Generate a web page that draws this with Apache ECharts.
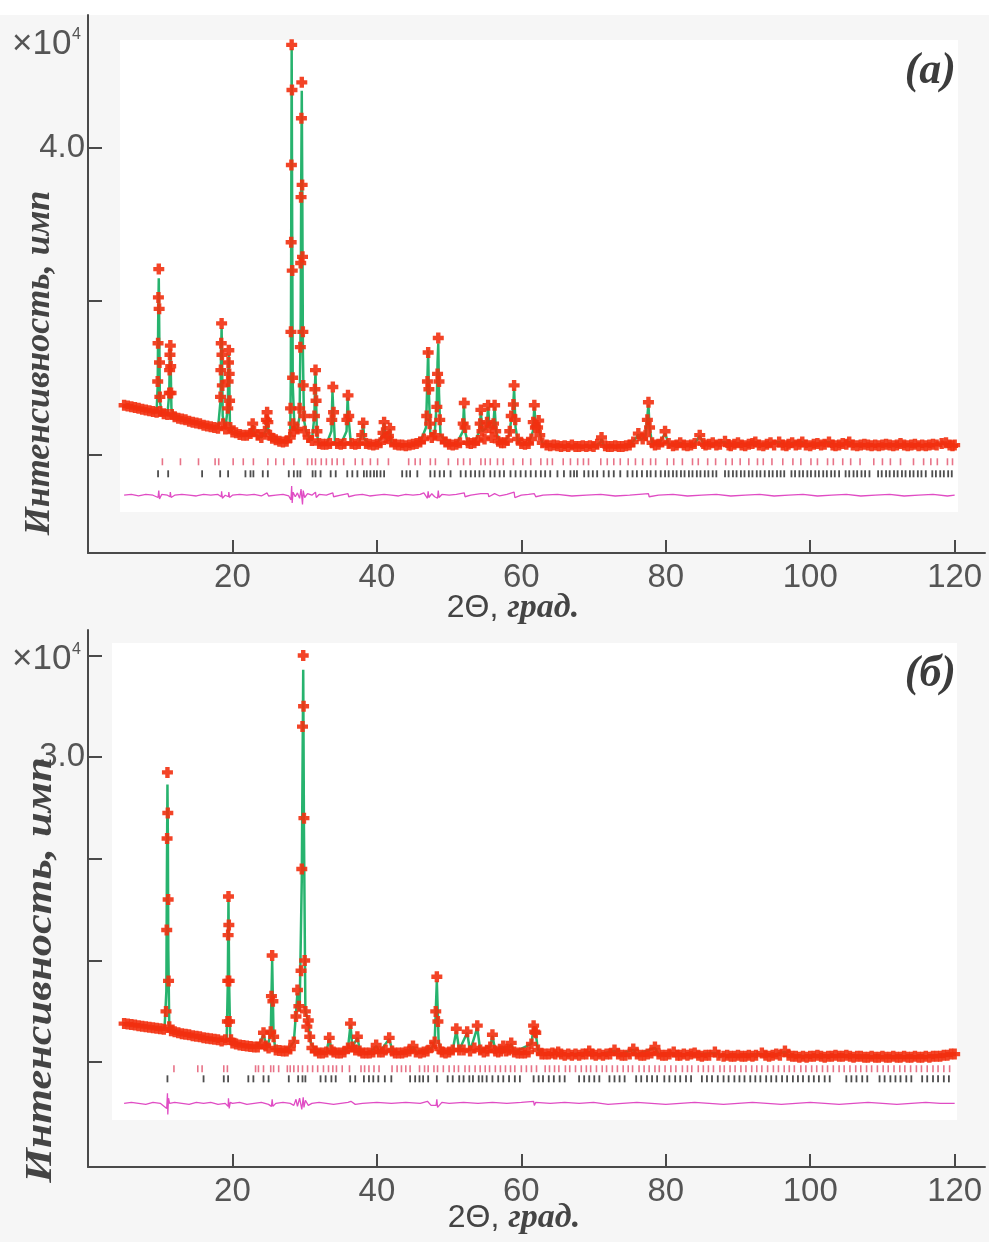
<!DOCTYPE html>
<html><head><meta charset="utf-8">
<script src="https://cdn.jsdelivr.net/npm/echarts@6.0.0/dist/echarts.min.js"></script>
<style>html,body{margin:0;padding:0;background:#f6f6f6}#c{width:989px;height:1242px}</style>
</head><body><div id="c"></div>
<script>
// ---------- Panel (a) ----------
const obsA = [[5.0,0.64],[5.5,0.63],[6.0,0.62],[6.5,0.61],[7.0,0.60],[7.5,0.59],[8.0,0.58],[8.5,0.57],[9.0,0.56],[9.5,0.55],[9.65,0.95],[9.7,1.45],[9.75,2.05],[9.8,2.42],[9.85,1.9],[9.9,1.2],[9.95,0.75],[10.0,0.56],[10.5,0.53],[11.0,0.52],[11.25,0.8],[11.3,1.1],[11.35,1.3],[11.4,1.42],[11.45,1.15],[11.5,0.8],[11.6,0.52],[12.0,0.49],[12.5,0.47],[13.0,0.46],[13.5,0.45],[14.0,0.43],[14.5,0.42],[15.0,0.41],[15.5,0.40],[16.0,0.38],[16.5,0.37],[17.0,0.36],[17.5,0.35],[18.0,0.34],[18.35,0.75],[18.4,1.1],[18.45,1.45],[18.5,1.71],[18.55,1.3],[18.6,0.9],[18.7,0.4],[19.0,0.33],[19.35,0.6],[19.4,0.95],[19.45,1.2],[19.5,1.36],[19.55,1.05],[19.6,0.7],[19.7,0.35],[20.0,0.29],[20.5,0.28],[21.0,0.26],[21.5,0.25],[22.0,0.25],[22.5,0.27],[22.8,0.40],[23.0,0.3],[23.5,0.25],[24.0,0.22],[24.5,0.3],[24.7,0.45],[24.8,0.55],[24.9,0.42],[25.2,0.25],[25.5,0.21],[26.0,0.19],[26.5,0.17],[27.0,0.16],[27.5,0.17],[28.0,0.22],[28.05,0.6],[28.1,1.6],[28.13,2.77],[28.16,3.78],[28.2,5.35],[28.24,4.76],[28.28,2.4],[28.33,1.0],[28.4,0.4],[28.5,0.3],[29.0,0.33],[29.3,0.6],[29.4,1.4],[29.45,2.5],[29.5,3.36],[29.55,4.39],[29.6,4.86],[29.65,3.52],[29.7,2.58],[29.75,1.6],[29.8,0.9],[29.9,0.5],[30.0,0.3],[30.5,0.22],[31.0,0.18],[31.35,0.5],[31.42,0.85],[31.5,1.1],[31.58,0.7],[31.7,0.3],[32.0,0.14],[32.5,0.13],[33.0,0.13],[33.5,0.14],[33.75,0.45],[33.9,0.88],[34.0,0.55],[34.5,0.14],[35.0,0.13],[35.5,0.14],[35.85,0.45],[36.0,0.77],[36.1,0.5],[36.5,0.14],[37.0,0.13],[37.5,0.14],[37.9,0.25],[38.1,0.41],[38.5,0.14],[39.0,0.13],[39.5,0.12],[40.0,0.13],[40.5,0.15],[40.85,0.28],[41.0,0.42],[41.2,0.22],[41.6,0.24],[41.8,0.34],[42.0,0.16],[42.5,0.13],[43.0,0.12],[43.5,0.12],[44.0,0.11],[44.5,0.12],[45.0,0.13],[45.5,0.14],[46.0,0.16],[46.5,0.2],[46.9,0.5],[47.0,0.95],[47.1,1.33],[47.2,0.85],[47.3,0.4],[47.6,0.22],[48.0,0.25],[48.3,0.62],[48.4,1.05],[48.5,1.52],[48.6,0.95],[48.7,0.45],[49.0,0.2],[49.5,0.16],[50.0,0.13],[50.5,0.12],[51.0,0.13],[51.5,0.15],[51.95,0.4],[52.1,0.67],[52.2,0.35],[52.6,0.15],[53.0,0.14],[53.5,0.15],[54.0,0.18],[54.3,0.4],[54.4,0.58],[54.55,0.3],[54.9,0.2],[55.25,0.42],[55.4,0.64],[55.55,0.35],[55.9,0.22],[56.15,0.4],[56.3,0.64],[56.45,0.3],[56.8,0.17],[57.2,0.15],[57.6,0.15],[58.1,0.18],[58.4,0.3],[58.6,0.5],[58.9,0.65],[59.0,0.9],[59.15,0.45],[59.5,0.2],[60.0,0.14],[60.5,0.13],[61.0,0.14],[61.4,0.2],[61.65,0.42],[61.8,0.64],[61.95,0.35],[62.25,0.35],[62.4,0.44],[62.55,0.25],[62.9,0.15],[63.5,0.12],[64.0,0.11],[64.5,0.12],[65.0,0.11],[65.5,0.10],[66.0,0.11],[66.5,0.10],[67.0,0.12],[67.5,0.10],[68.0,0.10],[68.5,0.11],[69.0,0.10],[69.5,0.11],[70.0,0.10],[70.5,0.13],[71.1,0.22],[71.6,0.11],[72.0,0.10],[72.5,0.10],[73.0,0.11],[73.5,0.10],[74.0,0.10],[74.5,0.11],[75.0,0.12],[75.5,0.16],[76.2,0.27],[76.8,0.20],[77.2,0.25],[77.45,0.45],[77.6,0.68],[77.75,0.35],[78.1,0.15],[78.5,0.12],[79.0,0.13],[79.5,0.16],[79.9,0.30],[80.4,0.14],[81.0,0.11],[81.5,0.12],[82.0,0.15],[82.5,0.12],[83.0,0.11],[83.5,0.12],[84.0,0.14],[84.7,0.25],[85.2,0.14],[85.5,0.12],[86.0,0.13],[86.5,0.15],[87.0,0.12],[87.5,0.13],[88.2,0.17],[88.7,0.12],[89.0,0.11],[89.5,0.13],[90.0,0.15],[90.5,0.12],[91.0,0.11],[91.5,0.13],[92.0,0.14],[92.4,0.16],[92.9,0.12],[93.5,0.11],[94.0,0.13],[94.5,0.15],[95.0,0.12],[95.7,0.16],[96.2,0.12],[96.7,0.11],[97.0,0.13],[97.5,0.15],[98.0,0.12],[98.5,0.13],[98.9,0.16],[99.4,0.12],[100.0,0.11],[100.5,0.13],[101.0,0.14],[101.5,0.12],[102.0,0.13],[102.6,0.16],[103.1,0.12],[103.5,0.11],[104.0,0.12],[104.5,0.14],[105.0,0.13],[105.4,0.16],[105.9,0.12],[106.5,0.11],[107.0,0.12],[107.5,0.13],[108.0,0.12],[108.5,0.11],[109.0,0.12],[109.5,0.11],[110.0,0.12],[110.5,0.13],[111.0,0.12],[111.5,0.11],[112.0,0.12],[112.5,0.14],[113.0,0.12],[113.5,0.11],[114.0,0.12],[114.5,0.13],[115.0,0.11],[115.5,0.12],[116.0,0.11],[116.5,0.12],[117.0,0.13],[117.5,0.12],[118.2,0.14],[118.8,0.15],[119.3,0.12],[119.7,0.11],[120.0,0.12]];

const calcA = [[5,0.64],[6,0.62],[7,0.60],[8,0.58],[9,0.56],[9.5,0.55],[9.65,0.9],[9.72,1.75],[9.8,2.3],[9.88,1.45],[9.95,0.7],[10.2,0.54],[11,0.52],[11.25,0.8],[11.32,1.2],[11.4,1.38],[11.48,1.0],[11.55,0.6],[12,0.49],[13,0.46],[14,0.43],[15,0.41],[16,0.38],[17,0.36],[18,0.34],[18.35,0.7],[18.42,1.3],[18.5,1.65],[18.58,1.1],[18.65,0.5],[19.0,0.33],[19.35,0.6],[19.42,1.0],[19.5,1.3],[19.58,0.9],[19.65,0.4],[20,0.29],[21,0.26],[22,0.25],[22.6,0.28],[22.8,0.38],[23.0,0.27],[24,0.22],[24.6,0.3],[24.8,0.5],[25.0,0.28],[25.5,0.21],[26,0.19],[27,0.16],[27.6,0.18],[28.0,0.24],[28.08,1.0],[28.13,2.6],[28.2,5.3],[28.27,3.0],[28.35,0.9],[28.6,0.32],[29.0,0.34],[29.3,0.5],[29.45,1.8],[29.52,3.5],[29.6,4.75],[29.68,3.2],[29.76,1.3],[29.9,0.45],[30.2,0.3],[30.6,0.22],[31,0.18],[31.35,0.5],[31.45,0.95],[31.5,1.08],[31.58,0.7],[31.7,0.25],[32,0.14],[33,0.13],[33.7,0.3],[33.85,0.82],[33.95,0.6],[34.2,0.15],[35.0,0.13],[35.8,0.3],[35.95,0.74],[36.1,0.45],[36.4,0.14],[37.5,0.14],[38.0,0.3],[38.1,0.4],[38.25,0.2],[39,0.13],[40,0.13],[40.8,0.25],[41.0,0.41],[41.2,0.2],[41.6,0.22],[41.8,0.33],[42.0,0.15],[43,0.12],[44,0.11],[45,0.13],[46,0.16],[46.8,0.35],[47.0,1.0],[47.1,1.36],[47.2,0.8],[47.4,0.28],[48.0,0.26],[48.3,0.7],[48.4,1.2],[48.5,1.45],[48.6,0.8],[48.8,0.26],[49.5,0.16],[50,0.13],[51,0.13],[51.9,0.3],[52.05,0.63],[52.2,0.3],[52.6,0.15],[53.5,0.15],[54.2,0.3],[54.4,0.56],[54.6,0.3],[55.2,0.35],[55.4,0.62],[55.6,0.35],[56.1,0.35],[56.3,0.62],[56.5,0.3],[57.0,0.16],[57.6,0.15],[58.3,0.25],[58.6,0.45],[58.8,0.5],[59.0,0.86],[59.2,0.35],[59.5,0.18],[60,0.14],[61,0.14],[61.6,0.3],[61.8,0.62],[62.0,0.35],[62.3,0.42],[62.5,0.3],[62.9,0.15],[64,0.11],[66,0.11],[68,0.10],[70,0.10],[70.9,0.15],[71.1,0.2],[71.4,0.12],[72,0.10],[74,0.10],[75,0.12],[75.8,0.2],[76.2,0.26],[76.6,0.19],[77.2,0.24],[77.45,0.5],[77.6,0.65],[77.75,0.35],[78.1,0.15],[79,0.13],[79.9,0.27],[80.4,0.14],[81,0.11],[82,0.15],[83,0.11],[84,0.14],[84.7,0.24],[85.2,0.14],[86,0.13],[88.2,0.16],[89,0.11],[90,0.15],[91,0.11],[92.4,0.16],[93.5,0.11],[94.5,0.15],[95.7,0.16],[96.5,0.11],[97.5,0.15],[98.9,0.16],[100,0.11],[101,0.14],[102.6,0.16],[103.5,0.11],[105.4,0.16],[106.5,0.11],[108,0.12],[110,0.12],[112,0.12],[114,0.12],[116,0.11],[118.5,0.14],[120,0.12]];

const diffA = [[5,0],[6,0.01],[7,-0.01],[8,0.01],[9,0],[9.7,-0.03],[9.8,0.06],[9.9,-0.05],[10.2,0.01],[11,0],[11.35,-0.02],[11.4,0.04],[11.5,-0.03],[12,0],[13,0.01],[14,0],[15,-0.01],[16,0.01],[17,0],[18,0.01],[18.45,-0.02],[18.5,0.05],[18.6,-0.04],[19,0],[19.45,-0.02],[19.5,0.04],[19.6,-0.03],[20,0],[21,0.01],[22,0],[23,0.01],[24,-0.01],[24.8,0.03],[25,-0.01],[26,0],[27,0.01],[27.8,-0.01],[28.1,-0.06],[28.2,0.12],[28.27,-0.1],[28.4,0.04],[28.7,-0.02],[29.0,0.03],[29.3,-0.04],[29.5,0.08],[29.6,0.1],[29.7,-0.12],[29.8,0.06],[30.0,-0.03],[30.4,0.02],[31,0],[31.5,0.04],[31.6,-0.03],[32,0.01],[33,0],[33.9,0.03],[34,-0.02],[35,0],[36,0.02],[36.1,-0.02],[37,0],[38,0.01],[39,-0.01],[40,0],[41,0.01],[42,0],[43,-0.01],[44,0.01],[45,0],[46,0.01],[46.5,0.03],[47.0,-0.04],[47.1,0.05],[47.2,-0.03],[47.6,0.02],[48.0,-0.02],[48.4,-0.04],[48.5,0.06],[48.6,-0.03],[49,0.01],[50,0],[51,0.01],[52.1,0.03],[52.2,-0.02],[53,0],[54.4,0.02],[55.4,0.02],[55.5,-0.02],[56.3,0.02],[57,-0.01],[58,0.01],[59.0,0.04],[59.1,-0.03],[60,0],[61,0.01],[61.8,0.02],[62,-0.02],[63,0],[65,0.01],[67,-0.01],[69,0],[71,0.01],[73,-0.01],[75,0],[77.6,0.02],[77.7,-0.02],[79,0],[81,0.01],[83,-0.01],[85,0],[87,0.01],[89,-0.01],[91,0],[93,0.01],[95,-0.01],[97,0],[99,0.01],[101,-0.01],[103,0],[105,0.01],[107,-0.01],[109,0],[111,0.01],[113,-0.01],[115,0],[117,0.01],[119,-0.01],[120,0]];

const braggA1 = [10.3,12.8,15.3,17.6,18.1,20.1,21.5,22.9,24.9,26.0,27.1,28.5,30.4,31.0,31.5,32.3,33.0,33.8,34.5,35.4,37.0,38.0,39.1,40.1,41.6,44.4,45.3,46.0,47.4,48.1,49.9,51.2,52.0,52.9,54.4,55.0,55.7,56.7,57.5,58.9,60.2,61.3,62.7,63.6,64.3,65.8,66.8,67.8,68.6,69.3,71.0,71.9,72.8,73.7,74.8,75.8,76.8,77.9,78.6,80.2,81.1,82.3,83.7,84.5,85.8,86.9,88.3,89.2,90.3,91.5,92.7,93.5,94.7,96.2,97.6,98.7,100.1,101.0,102.4,103.2,104.5,105.6,106.9,108.8,110.0,111.1,112.5,114.3,115.7,116.7,117.6,119.0,119.7];

const braggA2 = [9.7,11.1,15.8,18.3,19.4,21.8,22.5,22.9,24.2,24.9,27.8,28.5,29.0,29.4,31.1,31.5,32.2,33.6,34.3,35.9,36.6,37.3,38.2,38.6,39.1,39.6,40.0,40.5,41.0,43.5,44.1,44.6,45.6,47.4,48.0,48.7,49.3,50.2,51.6,52.3,53.0,53.6,54.2,54.8,55.7,56.3,57.0,57.6,58.5,59.2,59.9,60.6,61.3,62.0,62.7,63.3,64.0,65.0,65.9,66.8,67.3,67.7,68.7,69.3,69.9,70.5,71.4,72.1,72.8,73.7,74.7,75.4,76.0,76.7,77.4,77.9,78.6,79.3,79.9,80.4,81.0,81.5,82.1,82.6,83.2,83.7,84.3,84.8,85.4,85.9,86.5,87.0,88.2,88.7,89.3,89.8,90.4,90.9,91.5,92.0,92.6,93.1,93.7,94.3,94.8,95.4,95.9,96.4,97.4,97.9,98.5,99.0,99.6,100.1,100.7,101.2,101.8,102.3,102.9,103.4,104.0,104.9,105.4,106.0,106.5,107.1,107.6,108.2,109.4,109.9,110.5,111.0,111.6,112.1,112.7,113.2,113.8,114.3,114.9,115.4,116.0,116.9,117.4,118.0,118.5,119.1,119.6];

// ---------- Panel (б) ----------
const obsB = [[5.0,0.38],[5.5,0.375],[6.0,0.37],[6.5,0.365],[7.0,0.36],[7.5,0.355],[8.0,0.35],[8.5,0.345],[9.0,0.34],[9.5,0.335],[10.0,0.33],[10.5,0.325],[10.8,0.5],[10.9,1.3],[10.95,2.2],[11.0,2.85],[11.05,2.45],[11.1,1.6],[11.15,0.8],[11.25,0.35],[11.5,0.31],[12.0,0.30],[12.5,0.29],[13.0,0.28],[13.5,0.275],[14.0,0.27],[14.5,0.26],[15.0,0.255],[15.5,0.25],[16.0,0.24],[16.5,0.235],[17.0,0.23],[17.5,0.225],[18.0,0.22],[18.5,0.21],[19.0,0.22],[19.3,0.4],[19.35,0.8],[19.4,1.25],[19.45,1.63],[19.5,1.35],[19.55,0.8],[19.6,0.4],[19.8,0.22],[20.0,0.19],[20.5,0.18],[21.0,0.17],[21.5,0.165],[22.0,0.16],[22.5,0.155],[23.0,0.15],[23.5,0.15],[24.0,0.18],[24.3,0.29],[24.6,0.16],[25.0,0.14],[25.3,0.3],[25.4,0.65],[25.5,1.05],[25.6,0.6],[25.7,0.25],[26.0,0.12],[26.5,0.115],[27.0,0.11],[27.5,0.11],[28.0,0.13],[28.5,0.2],[28.8,0.45],[29.0,0.71],[29.2,0.55],[29.5,0.9],[29.6,1.9],[29.7,3.3],[29.8,4.0],[29.85,3.5],[29.9,2.4],[30.0,1.0],[30.1,0.5],[30.3,0.35],[30.5,0.41],[30.7,0.25],[31.0,0.14],[31.5,0.11],[32.0,0.09],[32.5,0.09],[33.0,0.1],[33.4,0.24],[33.7,0.12],[34.0,0.1],[34.5,0.09],[35.0,0.09],[35.5,0.1],[36.0,0.14],[36.35,0.38],[36.6,0.15],[37.0,0.12],[37.3,0.25],[37.6,0.11],[38.0,0.09],[38.5,0.09],[39.0,0.09],[39.5,0.1],[39.9,0.17],[40.3,0.1],[40.8,0.1],[41.2,0.12],[41.7,0.24],[42.1,0.11],[42.5,0.09],[43.0,0.09],[43.5,0.09],[44.0,0.1],[44.5,0.11],[45.0,0.16],[45.4,0.1],[46.0,0.09],[46.5,0.1],[47.0,0.11],[47.6,0.15],[48.0,0.2],[48.15,0.5],[48.3,0.84],[48.45,0.4],[48.7,0.13],[49.0,0.1],[49.5,0.09],[50.0,0.1],[50.5,0.12],[51.0,0.33],[51.4,0.12],[52.0,0.12],[52.5,0.30],[52.9,0.11],[53.5,0.14],[53.9,0.36],[54.3,0.12],[54.8,0.1],[55.3,0.11],[55.7,0.15],[56.0,0.27],[56.4,0.11],[56.8,0.1],[57.2,0.11],[57.5,0.16],[57.9,0.11],[58.3,0.12],[58.6,0.19],[59.0,0.1],[59.5,0.09],[60.0,0.09],[60.5,0.09],[61.0,0.1],[61.4,0.18],[61.7,0.36],[61.85,0.3],[62.0,0.29],[62.3,0.12],[62.8,0.08],[63.3,0.08],[63.8,0.08],[64.3,0.09],[64.7,0.08],[65.1,0.1],[65.5,0.08],[66.0,0.07],[66.5,0.08],[67.0,0.07],[67.5,0.08],[68.0,0.07],[68.5,0.08],[69.0,0.08],[69.4,0.11],[69.8,0.08],[70.3,0.07],[70.8,0.08],[71.3,0.07],[71.8,0.08],[72.3,0.08],[72.9,0.12],[73.4,0.08],[73.9,0.07],[74.4,0.07],[75.0,0.08],[75.5,0.13],[76.0,0.08],[76.5,0.07],[77.0,0.07],[77.5,0.08],[78.0,0.09],[78.5,0.15],[79.0,0.08],[79.5,0.07],[80.0,0.07],[80.5,0.08],[81.1,0.1],[81.6,0.07],[82.0,0.07],[82.5,0.08],[83.0,0.07],[83.5,0.08],[84.0,0.09],[84.5,0.07],[85.0,0.06],[85.5,0.07],[86.0,0.07],[86.8,0.1],[87.3,0.07],[88.0,0.06],[88.5,0.07],[89.0,0.06],[89.5,0.06],[90.0,0.07],[90.5,0.06],[91.0,0.06],[91.5,0.07],[92.0,0.06],[92.5,0.07],[93.3,0.09],[93.8,0.07],[94.3,0.06],[94.8,0.07],[95.3,0.08],[95.8,0.07],[96.5,0.11],[97.0,0.07],[97.5,0.06],[98.0,0.06],[98.5,0.05],[99.0,0.06],[99.5,0.05],[100.0,0.06],[100.5,0.06],[101.0,0.07],[101.5,0.06],[102.0,0.05],[102.5,0.06],[103.0,0.06],[103.5,0.07],[104.0,0.06],[104.5,0.06],[105.0,0.07],[105.5,0.06],[106.0,0.05],[106.5,0.06],[107.0,0.06],[107.5,0.05],[108.0,0.05],[108.5,0.06],[109.0,0.05],[109.5,0.05],[110.0,0.06],[110.5,0.05],[111.0,0.05],[111.5,0.06],[112.0,0.05],[112.5,0.05],[113.0,0.06],[113.5,0.05],[114.0,0.05],[114.5,0.06],[115.0,0.05],[115.5,0.05],[116.0,0.06],[116.5,0.05],[117.0,0.06],[117.5,0.06],[118.0,0.06],[118.5,0.07],[119.0,0.07],[119.5,0.08],[120.0,0.08]];

const calcB = [[5,0.38],[6,0.37],[7,0.36],[8,0.35],[9,0.34],[10,0.33],[10.6,0.33],[10.85,0.7],[10.92,1.8],[11.0,2.73],[11.06,2.2],[11.12,1.1],[11.25,0.35],[12,0.3],[14,0.27],[16,0.24],[18,0.22],[19.2,0.22],[19.35,0.75],[19.45,1.6],[19.55,0.75],[19.7,0.21],[20,0.19],[22,0.16],[23.5,0.15],[24.3,0.27],[24.8,0.14],[25.3,0.28],[25.5,1.0],[25.7,0.24],[26,0.12],[27.5,0.11],[28.5,0.2],[29.0,0.68],[29.3,0.5],[29.6,1.8],[29.8,3.86],[29.9,2.3],[30.1,0.5],[30.5,0.4],[30.8,0.2],[31.5,0.11],[32,0.09],[33,0.1],[33.4,0.23],[33.8,0.1],[35,0.09],[36,0.14],[36.35,0.37],[36.6,0.15],[37.3,0.24],[37.7,0.1],[39,0.09],[39.9,0.16],[40.4,0.1],[41.7,0.23],[42.2,0.1],[44,0.1],[45,0.15],[45.5,0.1],[47.6,0.14],[48.0,0.2],[48.3,0.8],[48.55,0.2],[49,0.1],[50.5,0.12],[51,0.31],[51.4,0.12],[52.5,0.29],[52.9,0.11],[53.9,0.34],[54.3,0.12],[55.7,0.15],[56.0,0.26],[56.4,0.11],[57.5,0.15],[58.0,0.11],[58.6,0.18],[59.0,0.1],[61.4,0.18],[61.7,0.35],[62.0,0.28],[62.3,0.12],[63,0.08],[65.1,0.09],[66,0.07],[69.4,0.1],[70,0.07],[72.9,0.11],[73.5,0.08],[75.5,0.12],[76,0.08],[78.5,0.14],[79,0.08],[81.1,0.09],[82,0.07],[86.8,0.09],[87.5,0.07],[93.3,0.08],[94,0.06],[96.5,0.1],[97,0.07],[100,0.06],[105,0.06],[110,0.05],[115,0.05],[118,0.06],[120,0.08]];

const diffB = [[5,0],[6,0.01],[7,0],[8,-0.01],[9,0.01],[10,0],[10.9,-0.05],[11.0,0.1],[11.05,-0.11],[11.15,0.05],[11.3,0],[12,0.01],[13,0],[14,-0.01],[15,0.01],[16,0],[17,0.01],[18,-0.01],[19,0],[19.4,-0.03],[19.45,0.05],[19.55,-0.05],[19.7,0.01],[20,0],[21,0.01],[22,-0.01],[23,0],[24,0.01],[25,-0.01],[25.4,-0.03],[25.5,0.04],[25.6,-0.03],[26,0],[27,0.01],[28,0],[28.5,-0.02],[28.8,0.04],[29.0,-0.03],[29.3,0.05],[29.6,-0.06],[29.8,0.06],[29.9,-0.04],[30.1,0.03],[30.5,-0.02],[31,0],[32,0.01],[33,0],[34,-0.01],[35,0],[36,0.01],[36.4,0.02],[37,-0.01],[38,0],[40,0.01],[42,0],[44,0.01],[46,0],[47,0.02],[47.5,-0.02],[48.2,-0.02],[48.3,0.04],[48.4,-0.04],[49,0.01],[50,0],[52,0.01],[54,0],[56,0.01],[58,0],[60,0.01],[61.7,0.02],[61.8,-0.02],[62,0.01],[64,0],[66,0.01],[68,0],[70,0.01],[72,-0.01],[74,0],[76,0.01],[78,0],[80,-0.01],[82,0],[84,0.01],[86,0],[88,-0.01],[90,0],[92,0.01],[94,0],[96,-0.01],[98,0],[100,0.01],[102,0],[104,-0.01],[106,0],[108,0.01],[110,0],[112,-0.01],[114,0],[116,0.01],[118,0],[120,0]];

const braggB1 = [11.9,15.2,15.8,18.8,19.3,23.2,23.6,24.3,25.3,25.7,26.4,27.6,28.0,28.5,29.1,29.7,30.4,31.1,31.8,32.6,33.3,33.9,34.4,35.2,36.2,37.8,38.3,38.9,39.6,40.3,42.1,42.8,43.4,44.0,44.6,45.9,46.6,47.1,47.9,48.4,49.2,50.0,50.7,51.3,52.2,52.8,53.6,54.3,55.0,55.6,56.4,57.1,57.8,58.5,59.1,60.0,60.7,61.4,62.1,63.3,63.9,64.6,65.2,66.1,66.7,67.5,68.3,69.0,69.6,70.4,71.2,71.8,72.6,73.3,74.1,74.8,75.4,76.3,77.0,77.7,78.5,79.1,79.9,80.7,81.4,82.3,83.0,83.6,84.5,85.2,85.9,86.6,87.5,88.1,88.9,89.6,90.4,91.1,91.9,92.6,93.3,94.1,94.9,95.6,96.4,97.1,97.8,98.7,99.4,100.2,100.9,101.7,102.4,103.2,104.0,104.7,105.5,106.3,107.0,107.8,108.5,109.3,110.1,110.8,111.6,112.4,113.1,113.9,114.7,115.4,116.2,117.0,117.7,118.5,119.3];

const braggB2 = [11.0,16.0,18.8,19.4,22.2,22.9,24.3,25.0,27.8,29.1,29.7,30.1,32.2,32.9,33.7,34.3,36.3,37.0,38.2,38.9,39.5,40.2,41.1,42.0,44.6,45.3,45.9,46.4,47.1,48.3,49.8,50.5,51.4,52.0,52.8,53.3,54.1,54.6,55.2,56.0,56.8,57.5,58.3,59.1,59.8,61.7,62.4,63.0,63.8,64.5,65.3,66.0,68.0,68.7,69.4,70.1,70.8,72.2,72.9,73.6,74.3,75.9,76.6,77.4,78.1,78.8,79.8,80.5,81.3,82.0,82.8,83.5,85.0,85.7,86.4,87.2,88.0,88.7,89.5,90.2,90.9,91.7,92.4,93.1,93.9,94.6,95.3,96.1,96.8,97.6,98.3,99.0,99.8,100.5,101.2,102.0,102.7,105.0,105.7,106.4,107.2,107.9,109.6,110.3,111.1,111.8,112.5,113.3,114.0,115.5,116.2,117.0,117.7,118.5,119.2];

// tick values
const xTicks = [20, 40, 60, 80, 100, 120];
const yTicksA = [0, 2, 4];
const yLabelsA = [4];
const yTicksB = [0, 1, 2, 3, 4];
const yLabelsB = [3];

// ---------- layout / style constants ----------
const DIFF_Y_A = -0.535, BR1_Y_A = -0.098, BR2_Y_A = -0.255;
const DIFF_Y_B = -0.404, BR1_Y_B = -0.064, BR2_Y_B = -0.163;
const PLUS = 'path://M3,0H7V3H10V7H7V10H3V7H0V3H3Z';
const AXC = '#4a4a4a', LBC = '#555';

function xAxisCfg(gi) {
  return {
    type: 'value', gridIndex: gi, min: 0, max: 124.2,
    axisLine: { show: true, onZero: false, lineStyle: { color: AXC, width: 2 } },
    axisTick: { show: true, inside: true, length: 13, lineStyle: { color: AXC, width: 2 }, customValues: xTicks },
    axisLabel: { customValues: xTicks, fontSize: 33, color: LBC, fontFamily: 'Liberation Sans', margin: 8 },
    splitLine: { show: false }
  };
}
function yAxisCfg(gi, mn, mx, ticks, labels) {
  return {
    type: 'value', gridIndex: gi, min: mn, max: mx,
    axisLine: { show: true, onZero: false, lineStyle: { color: AXC, width: 2 } },
    axisTick: { show: true, inside: true, length: 14, lineStyle: { color: AXC, width: 2 }, customValues: ticks },
    axisLabel: { customValues: labels, formatter: v => Number(v).toFixed(1), fontSize: 33, color: LBC, fontFamily: 'Liberation Sans', margin: 3 },
    splitLine: { show: false }
  };
}
function panelSeries(i, obs, calc, diff, b1, b2, dY, b1Y, b2Y) {
  return [
    { type: 'line', xAxisIndex: i, yAxisIndex: i, data: calc, showSymbol: false, z: 3,
      lineStyle: { color: '#27b36e', width: 2.5 } },
    { type: 'scatter', xAxisIndex: i, yAxisIndex: i, data: obs, symbol: PLUS, symbolSize: 11, z: 4,
      itemStyle: { color: '#f2300f', opacity: 0.9 } },
    { type: 'line', xAxisIndex: i, yAxisIndex: i, data: diff.map(d => [d[0], d[1] + dY]), showSymbol: false, z: 3,
      lineStyle: { color: '#e04cc4', width: 1.3 } },
    { type: 'scatter', xAxisIndex: i, yAxisIndex: i, data: b1.map(t => [t, b1Y]), symbol: 'rect', symbolSize: [1.6, 7], z: 3,
      itemStyle: { color: '#e2506a' } },
    { type: 'scatter', xAxisIndex: i, yAxisIndex: i, data: b2.map(t => [t, b2Y]), symbol: 'rect', symbolSize: [1.8, 7], z: 3,
      itemStyle: { color: '#222' } }
  ];
}

const serif = 'Liberation Serif', sans = 'Liberation Sans';
function txt(x, y, text, style, extra) {
  return Object.assign({ type: 'text', x: x, y: y, z: 10, style: Object.assign({ text: text }, style) }, extra || {});
}
const xNameRich = {
  s: { fontFamily: sans, fontSize: 32, fill: '#444', color: '#444' },
  i: { fontFamily: serif, fontSize: 34, fontStyle: 'italic', fontWeight: 'bold', fill: '#444', color: '#444' }
};
const graphics = [
  { type: 'rect', z: -1, shape: { x: 0, y: 0, width: 989, height: 15 }, style: { fill: '#fff' } },
  { type: 'rect', z: -1, shape: { x: 120, y: 40, width: 838, height: 472 }, style: { fill: '#fff' } },
  { type: 'rect', z: -1, shape: { x: 112, y: 643, width: 845, height: 477 }, style: { fill: '#fff' } },
  txt(12, 44, '×10', { fontFamily: sans, fontSize: 35, fill: LBC, align: 'left', verticalAlign: 'middle' }),
  txt(72, 35, '4', { fontFamily: sans, fontSize: 16, fill: LBC, align: 'left', verticalAlign: 'middle' }),
  txt(12, 659, '×10', { fontFamily: sans, fontSize: 35, fill: LBC, align: 'left', verticalAlign: 'middle' }),
  txt(72, 650, '4', { fontFamily: sans, fontSize: 16, fill: LBC, align: 'left', verticalAlign: 'middle' }),
  txt(956, 72, '(а)', { fontFamily: serif, fontSize: 44, fontStyle: 'italic', fontWeight: 'bold', fill: '#3c3c3c', align: 'right', verticalAlign: 'middle' }),
  txt(956, 675, '(б)', { fontFamily: serif, fontSize: 44, fontStyle: 'italic', fontWeight: 'bold', fill: '#3c3c3c', align: 'right', verticalAlign: 'middle' }),
  txt(40, 363, 'Интенсивность, имп', { fontFamily: serif, fontSize: 36, fontStyle: 'italic', fontWeight: 'bold', fill: '#444', align: 'center', verticalAlign: 'middle' }, { rotation: Math.PI / 2 }),
  txt(41, 970, 'Интенсивность, имп', { fontFamily: serif, fontSize: 38, fontStyle: 'italic', fontWeight: 'bold', fill: '#444', align: 'center', verticalAlign: 'middle' }, { rotation: Math.PI / 2, scaleX: 1.17 }),
  txt(513, 608, '{s|2Θ, }{i|град.}', { align: 'center', verticalAlign: 'middle', rich: xNameRich }),
  txt(514, 1218, '{s|2Θ, }{i|град.}', { align: 'center', verticalAlign: 'middle', rich: xNameRich })
];

const chart = echarts.init(document.getElementById('c'), null, { renderer: 'canvas' });
chart.setOption({
  animation: false,
  backgroundColor: '#f6f6f6',
  grid: [
    { left: 88, top: 15, width: 897, height: 538 },
    { left: 88, top: 630, width: 897, height: 537 }
  ],
  xAxis: [xAxisCfg(0), xAxisCfg(1)],
  yAxis: [yAxisCfg(0, -1.29, 5.74, yTicksA, yLabelsA), yAxisCfg(1, -1.03, 4.25, yTicksB, yLabelsB)],
  graphic: { elements: graphics },
  series: [].concat(
    panelSeries(0, obsA, calcA, diffA, braggA1, braggA2, DIFF_Y_A, BR1_Y_A, BR2_Y_A),
    panelSeries(1, obsB, calcB, diffB, braggB1, braggB2, DIFF_Y_B, BR1_Y_B, BR2_Y_B)
  )
});
</script></body></html>
